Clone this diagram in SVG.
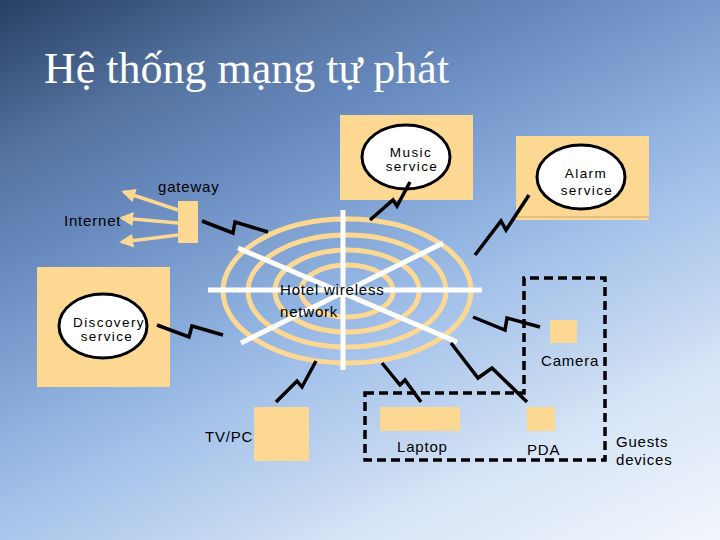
<svg xmlns="http://www.w3.org/2000/svg" width="720" height="540" viewBox="0 0 720 540">
<defs>
<linearGradient id="bg" x1="0" y1="0" x2="338" y2="719" gradientUnits="userSpaceOnUse">
<stop offset="0" stop-color="#283f63"/>
<stop offset="0.18" stop-color="#5473a0"/>
<stop offset="0.32" stop-color="#6a8cc0"/>
<stop offset="0.5" stop-color="#8fb2e0"/>
<stop offset="0.595" stop-color="#a6c3ea"/>
<stop offset="0.72" stop-color="#c2d6f0"/>
<stop offset="0.795" stop-color="#d6e4f6"/>
<stop offset="1" stop-color="#f2f6fc"/>
</linearGradient>
<marker id="ah" viewBox="0 0 10 10" refX="8" refY="5" markerWidth="4" markerHeight="4" orient="auto" markerUnits="strokeWidth">
<path d="M0,0 L10,5 L0,10 Z" fill="#fdd893"/>
</marker>
<style>
.box{fill:#fdd893}
.ell{fill:#fff;stroke:#000;stroke-width:3}
.t{font-family:"Liberation Sans",Arial,sans-serif;font-size:15px;letter-spacing:0.8px;fill:#000}
.ts{font-family:"Liberation Sans",Arial,sans-serif;font-size:13.5px;letter-spacing:1.4px;fill:#000}
.bolt{fill:none;stroke:#000;stroke-width:3.5;stroke-linejoin:miter}
.ring{fill:none;stroke:#fdd893;stroke-width:5}
.spoke{stroke:#fff;stroke-width:5}
.arr{stroke:#fdd893;stroke-width:3.5;marker-end:url(#ah)}
.dash{fill:none;stroke:#000;stroke-width:3.5;stroke-dasharray:9,5}
</style>
</defs>
<rect width="720" height="540" fill="url(#bg)"/>
<text x="44" y="83" font-family="'Liberation Serif','Times New Roman',serif" font-size="44" fill="#fff">Hệ thống mạng tự phát</text>

<g id="network">
<ellipse class="ring" cx="347" cy="291" rx="124" ry="72"/>
<ellipse class="ring" cx="347" cy="291" rx="99" ry="56"/>
<ellipse class="ring" cx="347" cy="291" rx="72" ry="41"/>
<ellipse class="ring" cx="347" cy="291" rx="46" ry="26"/>
<line class="spoke" x1="343" y1="210" x2="343" y2="370"/>
<line class="spoke" x1="208" y1="290" x2="482" y2="290"/>
<line class="spoke" x1="238" y1="248" x2="457" y2="342"/>
<line class="spoke" x1="241" y1="343" x2="443" y2="243"/>
<text class="t" x="280" y="295">Hotel wireless</text>
<text class="t" x="280" y="317">network</text>
</g>

<g id="music">
<rect class="box" x="340" y="115" width="133" height="85"/>
<ellipse class="ell" cx="406" cy="157" rx="44" ry="32"/>
<text class="ts" x="411" y="157" text-anchor="middle">Music</text>
<text class="ts" x="412" y="171" text-anchor="middle">service</text>
</g>

<g id="alarm">
<rect class="box" x="516" y="136" width="133" height="84"/>
<line x1="517" y1="217" x2="649" y2="217" stroke="#c9a873" stroke-width="1"/>
<ellipse class="ell" cx="581" cy="177" rx="44" ry="32"/>
<text class="ts" x="586" y="178" text-anchor="middle">Alarm</text>
<text class="ts" x="587" y="195" text-anchor="middle">service</text>
</g>

<g id="gateway">
<rect class="box" x="178" y="201" width="20" height="42"/>
<text class="t" x="158" y="192">gateway</text>
</g>

<g id="internet">
<text class="t" x="64" y="226">Internet</text>
</g>

<g id="discovery">
<rect class="box" x="37" y="267" width="133" height="120"/>
<ellipse class="ell" cx="103" cy="326" rx="44" ry="32"/>
<text class="ts" x="109" y="327" text-anchor="middle">Discovery</text>
<text class="ts" x="107" y="341" text-anchor="middle">service</text>
</g>

<g id="tvpc">
<rect class="box" x="254" y="407" width="55" height="54"/>
<text class="t" x="205" y="442">TV/PC</text>
</g>

<g id="guests">
<path class="dash" d="M365,393 H524 V278 H605 V460 H365 Z"/>
<text class="t" x="616" y="447">Guests</text>
<text class="t" x="616" y="465">devices</text>
</g>

<g id="laptop">
<rect class="box" x="380" y="407" width="80" height="24"/>
<text class="t" x="397" y="452">Laptop</text>
</g>

<g id="camera">
<rect class="box" x="550" y="320" width="27" height="23"/>
<text class="t" x="541" y="366">Camera</text>
</g>

<g id="pda">
<rect class="box" x="527" y="407" width="28" height="24"/>
<text class="t" x="527" y="455">PDA</text>
</g>

<g id="connectors">
<line class="arr" x1="178" y1="210" x2="124" y2="192"/>
<line class="arr" x1="178" y1="223" x2="122" y2="218"/>
<line class="arr" x1="178" y1="235" x2="122" y2="242"/>
<polyline class="bolt" points="202,221 233,233 235,222 268,232"/>
<polyline class="bolt" points="370,220 393,200 397,206 410,182"/>
<polyline class="bolt" points="475,255 501,221 506,230 529,195"/>
<polyline class="bolt" points="157,325 189,337 192,326 223,335"/>
<polyline class="bolt" points="276,402 297,381 302,387 316,361"/>
<polyline class="bolt" points="382,363 400,385 405,380 421,402"/>
<polyline class="bolt" points="473,317 505,330 507,318 540,327"/>
<polyline class="bolt" points="451,343 478,378 492,368 527,402"/>
</g>
</svg>
